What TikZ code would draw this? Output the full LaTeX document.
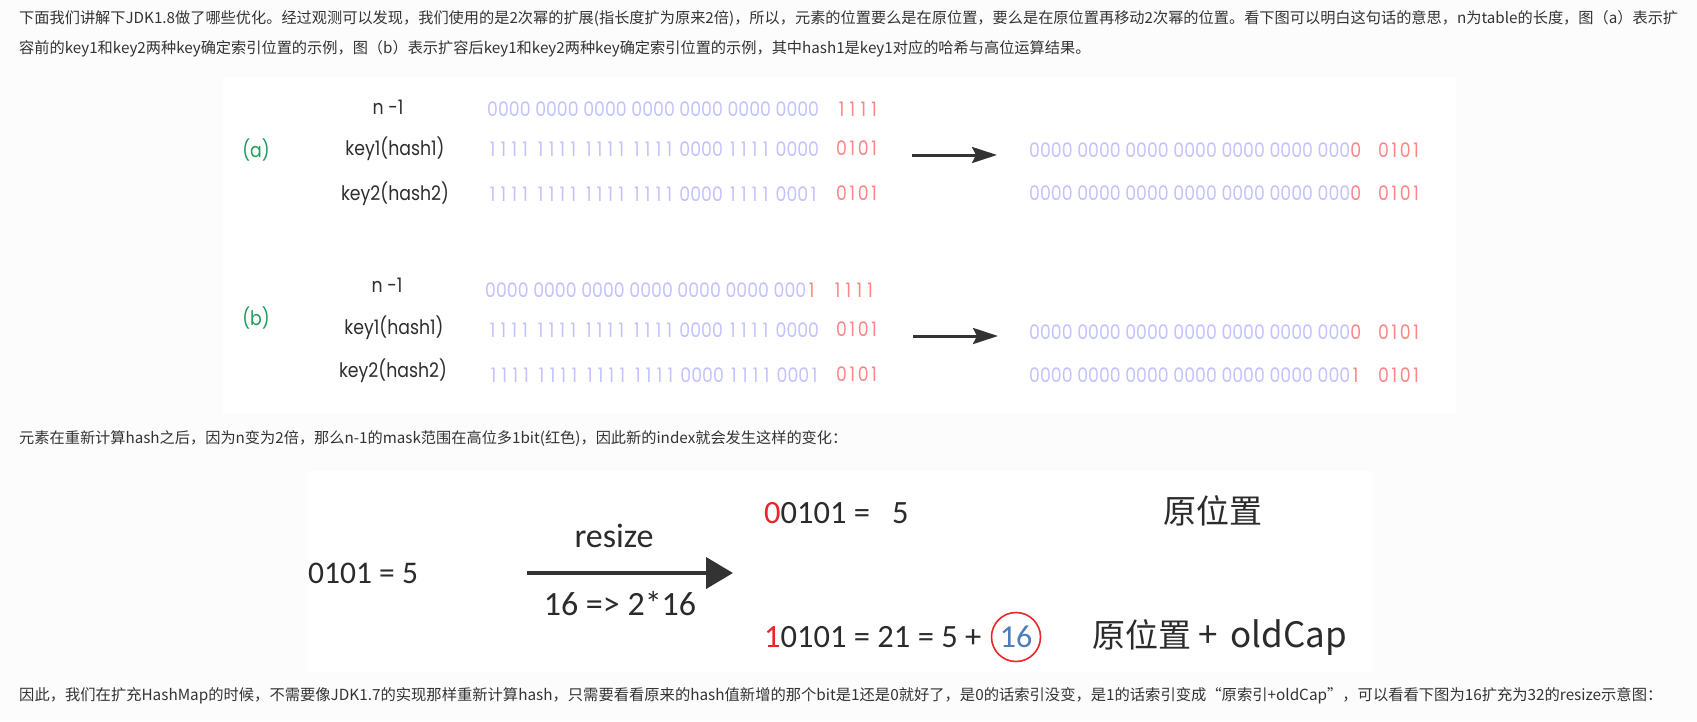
\documentclass[tikz,border=0pt]{standalone}
\usepackage{fontspec}
\usetikzlibrary{arrows.meta}
\newfontfamily\cjk{Noto Sans CJK SC}
\newfontfamily\gothic[FakeStretch=0.865]{Poppins}
\newfontfamily\calfont{Carlito}
\definecolor{pagebg}{HTML}{FCFCFC}
\definecolor{txt}{HTML}{333333}
\definecolor{bitblue}{HTML}{C2C2FF}
\definecolor{bitred}{HTML}{FF8585}
\definecolor{labgreen}{HTML}{1E9E5A}
\definecolor{labdark}{HTML}{2E2E2E}
\definecolor{arr}{HTML}{333333}
\definecolor{dark2}{HTML}{2B2B2B}
\definecolor{hotred}{HTML}{E8262B}
\definecolor{circblue}{HTML}{4F7DB8}
% tabular digits: each digit in a box as wide as a zero
\newcommand\bitstr[1]{\bitwordA#1 \bitend}
\def\bitwordA#1 #2\bitend{\bitdigits#1\relax\ifx\relax#2\relax\else\space\bitwordA#2\bitend\fi}
\def\bitdigits#1{\ifx\relax#1\else\makebox[\fontcharwd\font`0]{#1}\expandafter\bitdigits\fi}
\begin{document}
\begin{tikzpicture}[x=1pt,y=-1pt,
  para/.style={anchor=base west, inner sep=0, font=\cjk\fontsize{15.2}{18}\selectfont, text=txt},
  lab/.style={anchor=base, inner sep=0, font=\gothic\fontsize{20}{24}\selectfont, text=labdark},
  tag/.style={anchor=base, inner sep=0, font=\gothic\fontsize{20}{24}\selectfont, text=labgreen},
  bits/.style={anchor=base west, inner sep=0, font=\gothic\fontsize{20}{24}\selectfont, text=bitblue},
  rbits/.style={bits, text=bitred},
  big/.style={anchor=base west, inner sep=0, font=\calfont\fontsize{32.5}{38}\selectfont, text=dark2},
  bigcjk/.style={anchor=base west, inner sep=0, font=\cjk\fontsize{33}{40}\selectfont, text=dark2},
  flow/.style={draw=arr, line width=3pt, -{Stealth[length=25pt,width=16pt,inset=4pt]}},
  bigflow/.style={draw=arr, line width=4pt, -{Triangle[length=27pt,width=31pt]}}
]
\useasboundingbox (0,0) rectangle (1697,721);
\fill[pagebg] (0,0) rectangle (1697,721);
% picture panels
\fill[white] (223,77) rectangle (1456,413);
\fill[white] (308,471) rectangle (1372,672);

% paragraphs
\node[para] (p1) at (19,23) {下面我们讲解下JDK1.8做了哪些优化。经过观测可以发现，我们使用的是2次幂的扩展(指长度扩为原来2倍)，所以，元素的位置要么是在原位置，要么是在原位置再移动2次幂的位置。看下图可以明白这句话的意思，n为table的长度，图（a）表示扩};
\node[para] (p2) at (19,53) {容前的key1和key2两种key确定索引位置的示例，图（b）表示扩容后key1和key2两种key确定索引位置的示例，其中hash1是key1对应的哈希与高位运算结果。};
\node[para] (p3) at (19,443) {元素在重新计算hash之后，因为n变为2倍，那么n-1的mask范围在高位多1bit(红色)，因此新的index就会发生这样的变化：};
\node[para, font=\cjk\fontsize{15.3}{18}\selectfont] (p4) at (19,700) {因此，我们在扩充HashMap的时候，不需要像JDK1.7的实现那样重新计算hash，只需要看看原来的hash值新增的那个bit是1还是0就好了，是0的话索引没变，是1的话索引变成“原索引+oldCap”，可以看看下图为16扩充为32的resize示意图：};

% figure (a)
\node[tag] (ta) at (256,157) {(a)};
\node[lab] (an) at (388,114) {n -1};
\node[lab] (ak1) at (395,155) {key1(hash1)};
\node[lab] (ak2) at (395,200) {key2(hash2)};
\node[bits] (ab0) at (487,116) {\bitstr{0000 0000 0000 0000 0000 0000 0000}};
\node[rbits] (ar0) at (836,116) {\bitstr{1111}};
\node[bits] (ab1) at (487,156) {\bitstr{1111 1111 1111 1111 0000 1111 0000}};
\node[rbits] (ar1) at (836,155) {\bitstr{0101}};
\node[bits] (ab2) at (487,201) {\bitstr{1111 1111 1111 1111 0000 1111 0001}};
\node[rbits] (ar2) at (836,200) {\bitstr{0101}};
\coordinate (aas) at (912,155);
\coordinate (aae) at (997,155);
\draw[flow] (aas) -- (aae);
\node[bits] (ao1) at (1029,157) {\bitstr{0000 0000 0000 0000 0000 0000 000{\textcolor{bitred}{0}}}};
\node[rbits] (aor1) at (1378,157) {\bitstr{0101}};
\node[bits] (ao2) at (1029,200) {\bitstr{0000 0000 0000 0000 0000 0000 000{\textcolor{bitred}{0}}}};
\node[rbits] (aor2) at (1378,200) {\bitstr{0101}};

% figure (b)
\node[tag] (tb) at (256,325) {(b)};
\node[lab] (bn) at (387,292) {n -1};
\node[lab] (bk1) at (394,334) {key1(hash1)};
\node[lab] (bk2) at (393,377) {key2(hash2)};
\node[bits] (bb0) at (485,297) {\bitstr{0000 0000 0000 0000 0000 0000 000{\textcolor{bitred}{1}}}};
\node[rbits] (br0) at (832,297) {\bitstr{1111}};
\node[bits] (bb1) at (487,337) {\bitstr{1111 1111 1111 1111 0000 1111 0000}};
\node[rbits] (br1) at (836,336) {\bitstr{0101}};
\node[bits] (bb2) at (488,382) {\bitstr{1111 1111 1111 1111 0000 1111 0001}};
\node[rbits] (br2) at (836,381) {\bitstr{0101}};
\coordinate (bas) at (913,336);
\coordinate (bae) at (998,336);
\draw[flow] (bas) -- (bae);
\node[bits] (bo1) at (1029,339) {\bitstr{0000 0000 0000 0000 0000 0000 000{\textcolor{bitred}{0}}}};
\node[rbits] (bor1) at (1378,339) {\bitstr{0101}};
\node[bits] (bo2) at (1029,382) {\bitstr{0000 0000 0000 0000 0000 0000 000{\textcolor{bitred}{1}}}};
\node[rbits] (bor2) at (1378,382) {\bitstr{0101}};

% resize figure
\node[big, font=\calfont\fontsize{31.5}{38}\selectfont] (old) at (308,583) {0101 = 5};
\node[big, anchor=base, font=\calfont\fontsize{34}{40}\selectfont] (rs) at (614,547) {resize};
\node[big, anchor=base, font=\calfont\fontsize{34}{40}\selectfont] (cap) at (620,615) {16 => 2*16};
\coordinate (rzs) at (527,573);
\coordinate (rze) at (733,573);
\draw[bigflow] (rzs) -- (rze);
\node[big] (n1) at (764,523) {\textcolor{hotred}{0}0101 =\ \ \ 5};
\node[bigcjk] (k1) at (1163,523) {原位置};
\node[big] (n2) at (764,647) {\textcolor{hotred}{1}0101 = 21 = 5 +};
\node[circle, draw=hotred, line width=1.6pt, minimum size=49pt, inner sep=0,
      font=\calfont\fontsize{32}{38}\selectfont, text=circblue] (c16) at (1016,637) {16};
\node[bigcjk] (k2) at (1092,647) {原位置\hspace{7pt}{\fontsize{35}{40}\selectfont+\hspace{5pt} oldCap}};
\end{tikzpicture}
\end{document}
